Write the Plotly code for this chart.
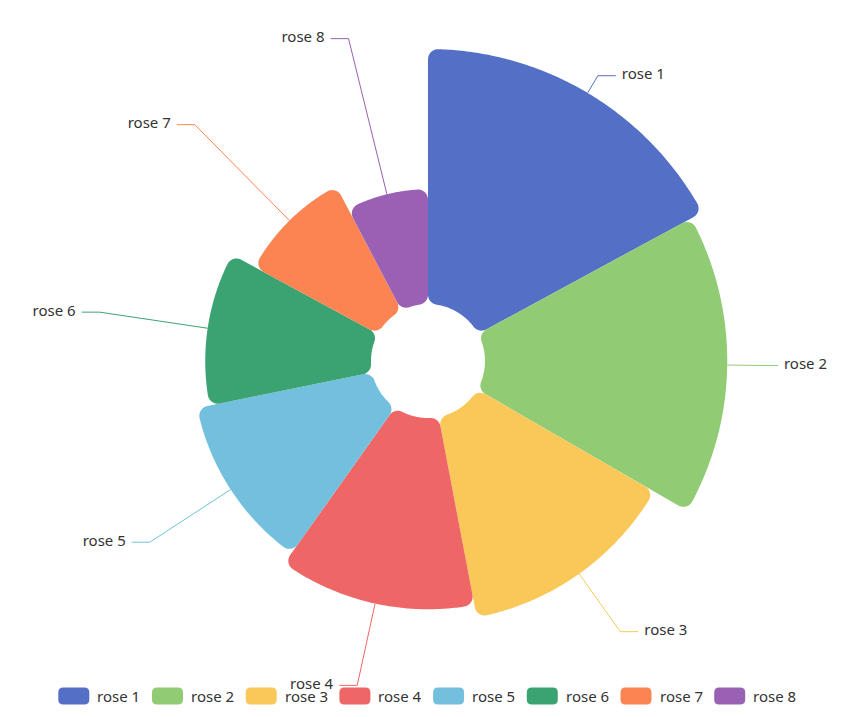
import numpy as np
import plotly.graph_objects as go

# ---- data ----
names = ["rose 1", "rose 2", "rose 3", "rose 4", "rose 5", "rose 6", "rose 7", "rose 8"]
values = [40, 38, 32, 30, 28, 26, 22, 18]
colors = ["#5470c6", "#91cc75", "#fac858", "#ee6666", "#73c0de", "#3ba272", "#fc8452", "#9a60b4"]

# ---- style / layout constants (pixels) ----
W, H = 860, 717
CX, CY = 428, 361          # centre of the rose, px from top-left
PR = 356                   # polar radius in px (1 radial unit = 1 px)
R_IN, R_OUT = 57, 312      # inner / outer radius of the rose
CORNER = 10                # sector corner rounding
LABEL_R = 332              # radius where the leader line bends
LEN2 = 18                  # horizontal part of the leader line
TEXT_GAP = 6               # gap between leader line and label
FONT = "Noto Sans, Open Sans, DejaVu Sans, sans-serif"
FONT_SIZE = 15
TEXT_COLOR = "#333333"
# legend (drawn as shapes + annotations)
LEG_X0, LEG_STEP, LEG_Y = 58.3, 93.7, 696
ICON_W, ICON_H, ICON_R, ICON_GAP = 31, 17, 5, 6


def pt(r, t):
    return np.array([r * np.sin(t), r * np.cos(t)])


def arc(c, rad, a_from, a_to, n):
    a = np.linspace(a_from, a_to, n)
    return [c + rad * np.array([np.sin(x), np.cos(x)]) for x in a]


def fillet(center, p_from, p_to, c, n=12):
    def ang(p):
        d = p - center
        return np.arctan2(d[0], d[1])
    a0, a1 = ang(p_from), ang(p_to)
    d = (a1 - a0 + np.pi) % (2 * np.pi) - np.pi
    return arc(center, c, a0, a0 + d, n)


def rounded_sector(r0, r1, t0, t1, c):
    do = np.arcsin(c / (r1 - c))
    di = np.arcsin(c / (r0 + c))
    co0, co1 = pt(r1 - c, t0 + do), pt(r1 - c, t1 - do)
    ci0, ci1 = pt(r0 + c, t0 + di), pt(r0 + c, t1 - di)
    lo0, lo1 = pt((r1 - c) * np.cos(do), t0), pt((r1 - c) * np.cos(do), t1)
    li0, li1 = pt((r0 + c) * np.cos(di), t0), pt((r0 + c) * np.cos(di), t1)
    ao0, ao1 = pt(r1, t0 + do), pt(r1, t1 - do)
    ai0, ai1 = pt(r0, t0 + di), pt(r0, t1 - di)
    pts = [li0, lo0]
    pts += fillet(co0, lo0, ao0, c)
    nout = max(4, int(np.degrees(t1 - t0) * 2))
    pts += arc(np.zeros(2), r1, t0 + do, t1 - do, nout)
    pts += fillet(co1, ao1, lo1, c)
    pts += [lo1, li1]
    pts += fillet(ci1, li1, ai1, c)
    pts += arc(np.zeros(2), r0, t1 - di, t0 + di, max(4, int(np.degrees(t1 - t0))))
    pts += fillet(ci0, ai0, li0, c)
    pts.append(li0)
    P = np.array(pts)
    r = np.hypot(P[:, 0], P[:, 1])
    th = np.degrees(np.arctan2(P[:, 0], P[:, 1])) % 360
    return r, th


def to_polar(p):
    return float(np.hypot(p[0], p[1])), float(np.degrees(np.arctan2(p[0], p[1])) % 360)


total = float(sum(values))
vmax = float(max(values))
cum = np.concatenate([[0.0], np.cumsum(values)])

fig = go.Figure()

for i, (name, v, col) in enumerate(zip(names, values, colors)):
    t0 = cum[i] / total * 2 * np.pi
    t1 = cum[i + 1] / total * 2 * np.pi
    rr = R_IN + (R_OUT - R_IN) * v / vmax
    r, th = rounded_sector(R_IN, rr, t0, t1, CORNER)
    fig.add_trace(go.Scatterpolar(
        r=r, theta=th, mode="lines", fill="toself", fillcolor=col,
        line=dict(width=0, color=col), name=name, legendgroup=name,
        showlegend=False, hoverinfo="name"))

    # leader line
    tm = (t0 + t1) / 2
    p1 = pt(rr, tm)
    p2 = pt(LABEL_R, tm)
    side = 1 if np.sin(tm) >= 0 else -1
    p3 = p2 + np.array([side * LEN2, 0.0])
    lr, lt = zip(*[to_polar(p) for p in (p1, p2, p3)])
    fig.add_trace(go.Scatterpolar(
        r=list(lr), theta=list(lt), mode="lines",
        line=dict(color=col, width=1), showlegend=False,
        legendgroup=name, hoverinfo="skip", cliponaxis=False))
    tr, tt = to_polar(p3 + np.array([side * TEXT_GAP, 0.0]))
    fig.add_trace(go.Scatterpolar(
        r=[tr], theta=[tt], mode="text", text=[name],
        textposition="middle right" if side > 0 else "middle left",
        textfont=dict(size=FONT_SIZE, color=TEXT_COLOR, family=FONT),
        showlegend=False, legendgroup=name, hoverinfo="skip", cliponaxis=False))

# legend: rounded-rect icons + text
shapes, annotations = [], []
fx = lambda px: px / W
fy = lambda py: (H - py) / H
for i, (name, col) in enumerate(zip(names, colors)):
    x0 = LEG_X0 + i * LEG_STEP
    x1 = x0 + ICON_W
    ya, yb = LEG_Y - ICON_H / 2, LEG_Y + ICON_H / 2
    r = ICON_R
    path = (f"M{fx(x0 + r)},{fy(ya)} L{fx(x1 - r)},{fy(ya)} Q{fx(x1)},{fy(ya)} {fx(x1)},{fy(ya + r)} "
            f"L{fx(x1)},{fy(yb - r)} Q{fx(x1)},{fy(yb)} {fx(x1 - r)},{fy(yb)} "
            f"L{fx(x0 + r)},{fy(yb)} Q{fx(x0)},{fy(yb)} {fx(x0)},{fy(yb - r)} "
            f"L{fx(x0)},{fy(ya + r)} Q{fx(x0)},{fy(ya)} {fx(x0 + r)},{fy(ya)} Z")
    shapes.append(dict(type="path", xref="paper", yref="paper", path=path,
                       fillcolor=col, line=dict(width=0), layer="above"))
    annotations.append(dict(xref="paper", yref="paper", x=fx(x1 + ICON_GAP), y=fy(LEG_Y),
                            xanchor="left", yanchor="middle", showarrow=False, text=name,
                            font=dict(size=FONT_SIZE, color=TEXT_COLOR, family=FONT)))

fig.update_layout(
    width=W, height=H,
    margin=dict(l=0, r=0, t=0, b=0),
    paper_bgcolor="white",
    font=dict(family=FONT, size=FONT_SIZE, color=TEXT_COLOR),
    polar=dict(
        domain=dict(x=[(CX - PR) / W, (CX + PR) / W],
                    y=[(H - CY - PR) / H, (H - CY + PR) / H]),
        bgcolor="rgba(0,0,0,0)",
        radialaxis=dict(range=[0, PR], visible=False),
        angularaxis=dict(visible=False, rotation=90, direction="clockwise"),
    ),
    showlegend=False,
    shapes=shapes,
    annotations=annotations,
)

fig.write_html("out.html", config={"displayModeBar": False},
               post_script="document.body.style.margin='0px';")
